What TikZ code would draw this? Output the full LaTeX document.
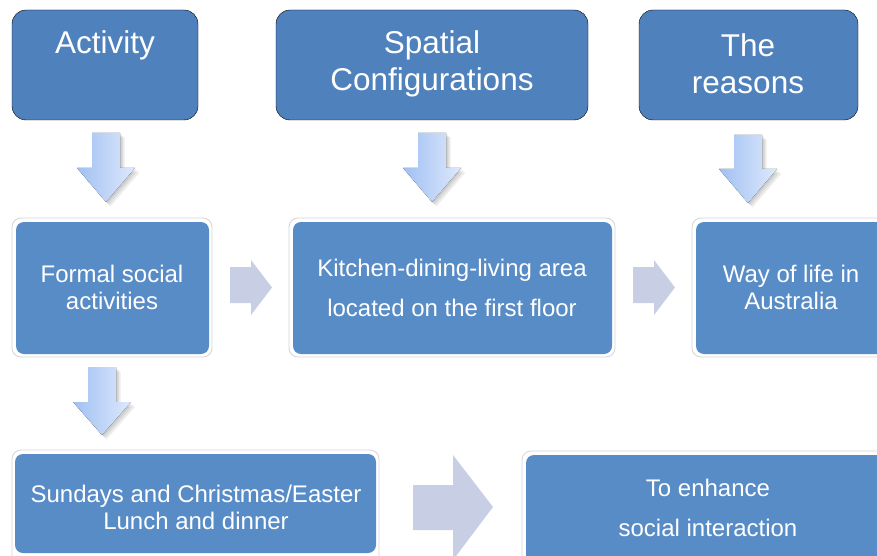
\documentclass[tikz,border=0pt]{standalone}
\usepackage{fontspec}
\setmainfont{Liberation Sans}
\definecolor{topblue}{RGB}{79,129,189}
\definecolor{boxblue}{RGB}{88,140,199}
\definecolor{framegray}{RGB}{210,212,216}
\definecolor{arrowL}{RGB}{160,192,242}
\definecolor{arrowR}{RGB}{222,233,252}
\definecolor{sidearrow}{RGB}{200,207,228}
\tikzset{
  topbox/.style={fill=topblue, rounded corners=14pt},
  framebox/.style={draw=framegray, fill=white, line width=0.8pt, rounded corners=9pt},
  innerbox/.style={fill=boxblue, rounded corners=8pt},
  toptext/.style={text=white, font=\fontsize{31.5}{37}\selectfont, align=center, inner sep=0pt},
  rowtext/.style={text=white, font=\fontsize{24}{27}\selectfont, align=center, inner sep=0pt},
  widetext/.style={text=white, font=\fontsize{24}{40}\selectfont, align=center, inner sep=0pt},
  downarrow/.style={left color=arrowL, right color=arrowR, draw=none},
  arrowshadow/.style={fill=black, opacity=0.07, draw=none},
  rightarrow/.style={fill=sidearrow, draw=none}
}
\begin{document}
\begin{tikzpicture}[x=1pt,y=-1pt]
\useasboundingbox (0,0) rectangle (877,556);
\begin{scope}
\clip (0,0) rectangle (877,556);
% top boxes
\draw[topbox] (12,10) rectangle (198,120);
\draw[topbox] (276,10) rectangle (588,120);
\draw[topbox] (639,10) rectangle (858,120);
\node[toptext] (act) at (105,45) {Activity};
\node[toptext] (spat) at (432,64) {Spatial\\Configurations};
\node[toptext] (reas) at (748,64) {The\\reasons};
% down arrows
\foreach \cx/\ty/\hy/\by in {106/133/168/202, 432/133/168/202, 748/135/169/203, 102/367/402/435}{
  \foreach \s in {1.5,3,4.5}{
  \fill[arrowshadow] ({\cx-14+\s},{\ty+\s}) -- ({\cx+14+\s},{\ty+\s}) -- ({\cx+14+\s},{\hy+\s}) -- ({\cx+29+\s},{\hy+\s}) -- ({\cx+\s},{\by+\s}) -- ({\cx-29+\s},{\hy+\s}) -- ({\cx-14+\s},{\hy+\s}) -- cycle;
  }
  \fill[downarrow] ({\cx-14},\ty) -- ({\cx+14},\ty) -- ({\cx+14},\hy) -- ({\cx+29},\hy) -- (\cx,\by) -- ({\cx-29},\hy) -- ({\cx-14},\hy) -- cycle;
}
% second row
\draw[framebox] (12,218) rectangle (212,357);
\fill[innerbox] (16,222) rectangle (209,354);
\draw[framebox] (289,218) rectangle (615,357);
\fill[innerbox] (293,222) rectangle (612,354);
\draw[framebox] (692,218) rectangle (895,357);
\fill[innerbox] (696,222) rectangle (895,354);
\node[rowtext] (formal) at (112,287) {Formal social\\activities};
\node[widetext] (kitchen) at (452,288) {Kitchen-dining-living area\\located on the first floor};
\node[rowtext] (way) at (791,287) {Way of life in\\Australia};
% side arrows
\fill[rightarrow] (230,267) -- (251,267) -- (251,260) -- (272,287.5) -- (251,315) -- (251,303) -- (230,303) -- cycle;
\fill[rightarrow] (633,267) -- (654,267) -- (654,260) -- (675,287.5) -- (654,315) -- (654,303) -- (633,303) -- cycle;
% third row
\draw[framebox] (12,450) rectangle (379,575);
\fill[innerbox] (15,454) rectangle (376,553);
\draw[framebox] (522,451) rectangle (895,575);
\fill[innerbox] (526,455) rectangle (895,575);
\node[rowtext] (sundays) at (196,507) {Sundays and Christmas/Easter\\Lunch and dinner};
\node[widetext] (enhance) at (708,508) {To enhance\\social interaction};
\fill[rightarrow] (413,485) -- (453,485) -- (453,455) -- (493,507) -- (453,560) -- (453,530) -- (413,530) -- cycle;
\end{scope}
\end{tikzpicture}
\end{document}
